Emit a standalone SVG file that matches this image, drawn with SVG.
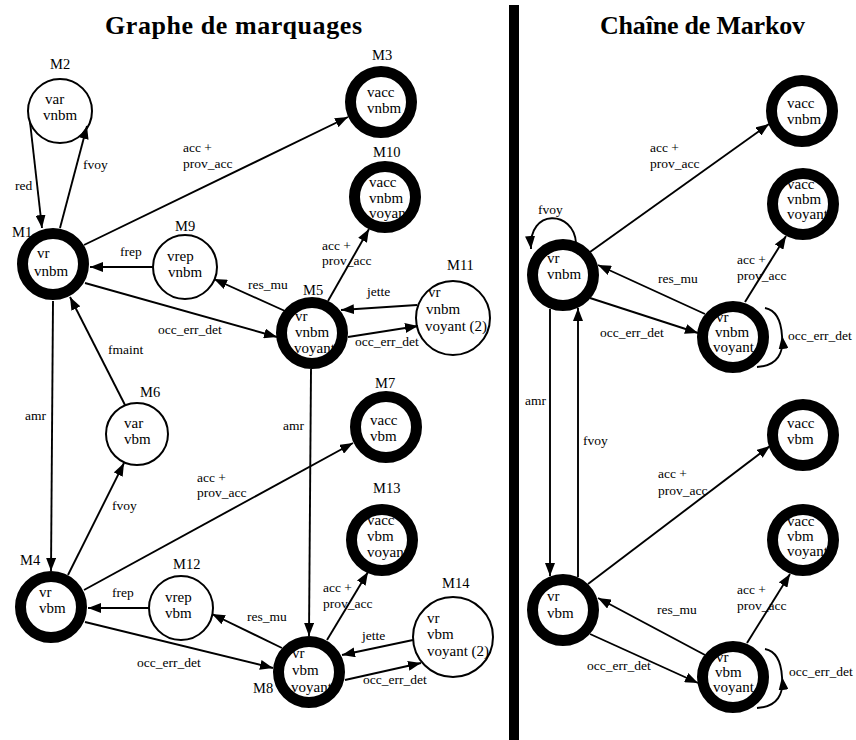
<svg xmlns="http://www.w3.org/2000/svg" width="856" height="740" viewBox="0 0 856 740">
  <style>
    text { font-family: "Liberation Serif", "Times New Roman", serif; font-size: 13.5px; fill: #000; }
    .title { font-size: 26px; font-weight: bold; }
    .st text { font-size: 15px; }
    .st text.nm { font-size: 14.5px; }
    .ring { fill: none; stroke: #000; stroke-width: 11; }
    .plain { fill: none; stroke: #000; stroke-width: 2; }
    .edges line, .edges path { stroke: #000; stroke-width: 1.9; fill: none; }
    .arr { marker-end: url(#ah); }
  </style>
  <defs>
    <marker id="ah" markerUnits="userSpaceOnUse" markerWidth="14" markerHeight="10" refX="13" refY="5" orient="auto">
      <path d="M0,0 L13,5 L0,10 z" fill="#000"/>
    </marker>
  </defs>

  <rect width="856" height="740" fill="#fff"/>

  <!-- headings and separator -->
  <text class="title" x="105" y="34" textLength="257" lengthAdjust="spacing">Graphe de marquages</text>
  <text class="title" x="600" y="34" textLength="205" lengthAdjust="spacing">Chaîne de Markov</text>
  <rect id="separator" x="509" y="5" width="10" height="735" fill="#000"/>

  <!-- ===== connectors ===== -->
  <g id="connectors" class="edges">
    <!-- marking graph -->
    <line class="arr" x1="30" y1="122" x2="42" y2="228"/>
    <line class="arr" x1="60" y1="228" x2="87" y2="126"/>
    <line class="arr" x1="84" y1="245" x2="348" y2="117"/>
    <line class="arr" x1="153" y1="267" x2="90" y2="267"/>
    <line class="arr" x1="285" y1="311" x2="214" y2="279"/>
    <line class="arr" x1="85" y1="283" x2="277" y2="337"/>
    <line class="arr" x1="125" y1="405" x2="70" y2="297"/>
    <line class="arr" x1="53" y1="301" x2="51" y2="571"/>
    <line class="arr" x1="68" y1="575" x2="124" y2="463"/>
    <line class="arr" x1="84" y1="590" x2="353" y2="443"/>
    <line class="arr" x1="311" y1="369" x2="309" y2="636"/>
    <line class="arr" x1="149" y1="608" x2="88" y2="608"/>
    <line class="arr" x1="282" y1="648" x2="212" y2="614"/>
    <line class="arr" x1="85" y1="622" x2="273" y2="668"/>
    <line class="arr" x1="328" y1="301" x2="369" y2="229"/>
    <line class="arr" x1="417" y1="305" x2="341" y2="310"/>
    <line class="arr" x1="348" y1="337" x2="418" y2="326"/>
    <line class="arr" x1="327" y1="640" x2="368" y2="572"/>
    <line class="arr" x1="413" y1="640" x2="342" y2="655"/>
    <line class="arr" x1="345" y1="680" x2="421" y2="663"/>

    <!-- Markov chain -->
    <path class="arr" d="M576,243 C574,210 528,208 531,249"/>
    <line class="arr" x1="590" y1="252" x2="769" y2="124"/>
    <line class="arr" x1="745" y1="302" x2="786" y2="236"/>
    <line class="arr" x1="705" y1="314" x2="598" y2="265"/>
    <line class="arr" x1="590" y1="298" x2="698" y2="333"/>
    <path class="arr" d="M757,367 C778,366 784,352 782,336"/>
    <path d="M782,336 C781,318 775,310 765,308"/>
    <line class="arr" x1="550" y1="309" x2="550" y2="576"/>
    <line class="arr" x1="578" y1="577" x2="578" y2="308"/>
    <line class="arr" x1="588" y1="584" x2="770" y2="446"/>
    <line class="arr" x1="747" y1="643" x2="790" y2="574"/>
    <line class="arr" x1="705" y1="655" x2="598" y2="598"/>
    <line class="arr" x1="590" y1="634" x2="698" y2="683"/>
    <path class="arr" d="M757,708 C778,707 784,693 782,677"/>
    <path d="M782,677 C781,659 775,651 765,649"/>
  </g>

  <!-- connector labels -->
  <g id="edge-labels">
    <text x="15" y="190">red</text>
    <text x="83" y="169">fvoy</text>
    <text x="183" y="152">acc +</text>
    <text x="183" y="168">prov_acc</text>
    <text x="120" y="256">frep</text>
    <text x="248" y="289">res_mu</text>
    <text x="158" y="334">occ_err_det</text>
    <text x="108" y="354">fmaint</text>
    <text x="25" y="420">amr</text>
    <text x="112" y="510">fvoy</text>
    <text x="197" y="482">acc +</text>
    <text x="197" y="497">prov_acc</text>
    <text x="283" y="430">amr</text>
    <text x="112" y="597">frep</text>
    <text x="247" y="621">res_mu</text>
    <text x="137" y="667">occ_err_det</text>
    <text x="322" y="250">acc +</text>
    <text x="322" y="265">prov_acc</text>
    <text x="367" y="296">jette</text>
    <text x="355" y="346">occ_err_det</text>
    <text x="323" y="592">acc +</text>
    <text x="323" y="608">prov_acc</text>
    <text x="362" y="640">jette</text>
    <text x="363" y="684">occ_err_det</text>

    <text x="538" y="214">fvoy</text>
    <text x="650" y="152">acc +</text>
    <text x="650" y="168">prov_acc</text>
    <text x="737" y="264">acc +</text>
    <text x="737" y="280">prov_acc</text>
    <text x="658" y="283">res_mu</text>
    <text x="600" y="337">occ_err_det</text>
    <text x="788" y="340">occ_err_det</text>
    <text x="525" y="405">amr</text>
    <text x="583" y="445">fvoy</text>
    <text x="658" y="478">acc +</text>
    <text x="658" y="495">prov_acc</text>
    <text x="737" y="594">acc +</text>
    <text x="737" y="610">prov_acc</text>
    <text x="657" y="614">res_mu</text>
    <text x="587" y="670">occ_err_det</text>
    <text x="789" y="676">occ_err_det</text>
  </g>

  <!-- ===== marking graph nodes ===== -->
  <g id="M1" class="st">
    <text class="nm" x="12" y="237">M1</text>
    <text x="37" y="258">vr</text><text x="34" y="276">vnbm</text>
    <circle class="ring" cx="53" cy="264" r="30.5"/>
  </g>
  <g id="M2" class="st">
    <text class="nm" x="50" y="69">M2</text>
    <text x="45" y="104">var</text><text x="43" y="120">vnbm</text>
    <circle class="plain" cx="60" cy="111" r="32"/>
  </g>
  <g id="M3" class="st">
    <text class="nm" x="372" y="60">M3</text>
    <text x="367" y="97">vacc</text><text x="367" y="113">vnbm</text>
    <circle class="ring" cx="381" cy="102" r="30.5"/>
  </g>
  <g id="M10" class="st">
    <text class="nm" x="373" y="157">M10</text>
    <text x="369" y="187">vacc</text><text x="369" y="203">vnbm</text><text x="369" y="218">voyant</text>
    <circle class="ring" cx="385" cy="197" r="30.5"/>
  </g>
  <g id="M9" class="st">
    <text class="nm" x="175" y="231">M9</text>
    <text x="167" y="261">vrep</text><text x="168" y="277">vnbm</text>
    <circle class="plain" cx="185" cy="267" r="32"/>
  </g>
  <g id="M5" class="st">
    <text class="nm" x="303" y="295">M5</text>
    <text x="295" y="321">vr</text><text x="295" y="337">vnbm</text><text x="294" y="353">voyant</text>
    <circle class="ring" cx="312" cy="333" r="30.5"/>
  </g>
  <g id="M11" class="st">
    <text class="nm" x="447" y="270">M11</text>
    <text x="428" y="297">vr</text><text x="426" y="314">vnbm</text><text x="425" y="331">voyant (2)</text>
    <circle class="plain" cx="453" cy="318" r="37"/>
  </g>
  <g id="M6" class="st">
    <text class="nm" x="140" y="397">M6</text>
    <text x="124" y="428">var</text><text x="124" y="444">vbm</text>
    <circle class="plain" cx="137" cy="434" r="31"/>
  </g>
  <g id="M7" class="st">
    <text class="nm" x="375" y="388">M7</text>
    <text x="370" y="425">vacc</text><text x="370" y="441">vbm</text>
    <circle class="ring" cx="386" cy="427" r="30.5"/>
  </g>
  <g id="M4" class="st">
    <text class="nm" x="20" y="565">M4</text>
    <text x="39" y="597">vr</text><text x="39" y="613">vbm</text>
    <circle class="ring" cx="51" cy="607" r="30.5"/>
  </g>
  <g id="M12" class="st">
    <text class="nm" x="173" y="569">M12</text>
    <text x="165" y="602">vrep</text><text x="165" y="618">vbm</text>
    <circle class="plain" cx="181" cy="608" r="32"/>
  </g>
  <g id="M13" class="st">
    <text class="nm" x="373" y="493">M13</text>
    <text x="367" y="525">vacc</text><text x="367" y="541">vbm</text><text x="367" y="557">voyant</text>
    <circle class="ring" cx="382" cy="540" r="30.5"/>
  </g>
  <g id="M14" class="st">
    <text class="nm" x="442" y="588">M14</text>
    <text x="427" y="623">vr</text><text x="427" y="639">vbm</text><text x="427" y="656">voyant (2)</text>
    <circle class="plain" cx="453" cy="637" r="40"/>
  </g>
  <g id="M8" class="st">
    <text class="nm" x="253" y="693">M8</text>
    <text x="292" y="658">vr</text><text x="292" y="675">vbm</text><text x="291" y="692">voyant</text>
    <circle class="ring" cx="309" cy="672" r="30.5"/>
  </g>

  <!-- ===== Markov chain states ===== -->
  <g id="S_vr_vnbm" class="st">
    <text x="547" y="263">vr</text><text x="547" y="279">vnbm</text>
    <circle class="ring" cx="563" cy="275" r="30.5"/>
  </g>
  <g id="S_vacc_vnbm" class="st">
    <text x="787" y="108">vacc</text><text x="787" y="124">vnbm</text>
    <circle class="ring" cx="802" cy="111" r="30.5"/>
  </g>
  <g id="S_vacc_vnbm_voyant" class="st">
    <text x="787" y="189">vacc</text><text x="787" y="204">vnbm</text><text x="787" y="219">voyant</text>
    <circle class="ring" cx="803" cy="204" r="30.5"/>
  </g>
  <g id="S_vr_vnbm_voyant" class="st">
    <text x="716" y="322">vr</text><text x="715" y="337">vnbm</text><text x="713" y="352">voyant</text>
    <circle class="ring" cx="733" cy="337" r="30.5"/>
  </g>
  <g id="S_vacc_vbm" class="st">
    <text x="787" y="428">vacc</text><text x="787" y="444">vbm</text>
    <circle class="ring" cx="803" cy="435" r="30.5"/>
  </g>
  <g id="S_vacc_vbm_voyant" class="st">
    <text x="787" y="526">vacc</text><text x="787" y="541">vbm</text><text x="787" y="556">voyant</text>
    <circle class="ring" cx="803" cy="540" r="30.5"/>
  </g>
  <g id="S_vr_vbm" class="st">
    <text x="547" y="601">vr</text><text x="547" y="618">vbm</text>
    <circle class="ring" cx="563" cy="610" r="30.5"/>
  </g>
  <g id="S_vr_vbm_voyant" class="st">
    <text x="716" y="662">vr</text><text x="715" y="677">vbm</text><text x="713" y="692">voyant</text>
    <circle class="ring" cx="733" cy="677" r="30.5"/>
  </g>
</svg>
